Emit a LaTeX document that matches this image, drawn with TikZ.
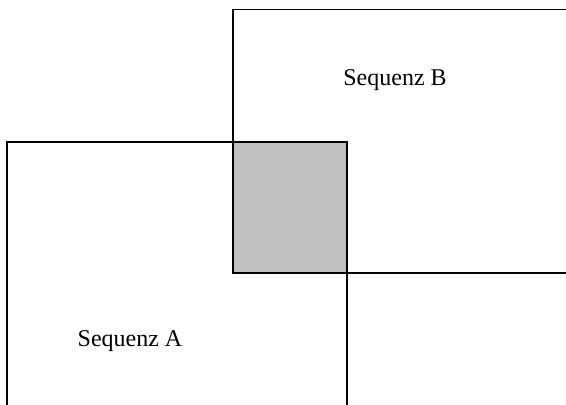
\documentclass[tikz,border=0pt]{standalone}
\usepackage{fontspec}
\setmainfont{Liberation Serif}
\definecolor{overlapgray}{HTML}{C0C0C0}
\begin{document}
\begin{tikzpicture}[x=0.75pt,y=-0.75pt,
  edge/.style={line width=1.1pt,black,line cap=rect},
  label/.style={font=\fontsize{18}{21}\selectfont,inner sep=0pt}]
\useasboundingbox (0,0) rectangle (566,404);
\fill[fill=overlapgray] (233,142) rectangle (347,273);
% Sequenz B (open at the right)
\draw[edge] (566,9.5) -- (233,9.5) -- (233,273) -- (566,273);
% Sequenz A (open at the bottom)
\draw[edge] (7,404) -- (7,142) -- (347,142) -- (347,404);
\node[label] (la) at (130,341) {Sequenz A};
\node[label] (lb) at (395,80) {Sequenz B};
\end{tikzpicture}
\end{document}
